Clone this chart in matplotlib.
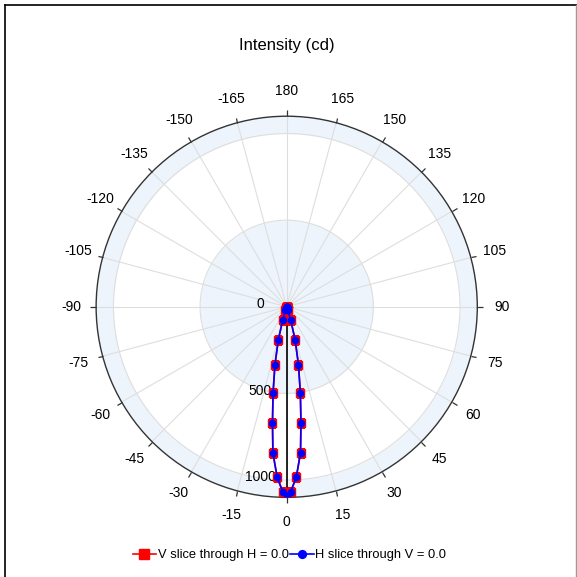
import numpy as np
import matplotlib.pyplot as plt
from matplotlib.lines import Line2D

plt.rcParams['font.family'] = ['Liberation Sans', 'DejaVu Sans']

# polar angle (deg) and intensity (cd)
v_angles = [-90, -75, -60, -45, -30, -25, -20, -16.7, -14.3, -11.5, -9, -7, -5.4, -3.2, -1.2,
            0, 1.2, 3.2, 5.4, 7, 9, 11.5, 14.3, 16.7, 20, 25, 30, 45, 60, 75, 90]
v_cd = [0, 0, 0, 0, 0, 5, 22, 80, 195, 340, 504, 674, 847, 986, 1069,
        1094, 1069, 986, 847, 674, 504, 340, 195, 80, 22, 5, 0, 0, 0, 0, 0]
h_angles = [-90, -75, -60, -45, -30, -25, -20, -16.7, -14.3, -11.5, -9, -7, -5.4, -3.2, -1.2,
            0, 1.2, 3.2, 5.4, 7, 9, 11.5, 14.3, 16.7, 20, 25, 30, 45, 60, 75, 90]
h_cd = [0, 0, 0, 0, 0, 5, 22, 80, 195, 340, 504, 674, 847, 986, 1069,
        1094, 1069, 986, 847, 674, 504, 340, 195, 80, 22, 5, 0, 0, 0, 0, 0]

theta_ticks = list(range(0, 360, 15))
theta_labels = [str(t if t <= 180 else t - 360) for t in theta_ticks]
r_ticks = [0, 500, 1000]
r_max = 1100

band = '#edf4fc'
grid_c = '#dedede'

fig = plt.figure(figsize=(5.77, 5.77), dpi=100)
ax = fig.add_axes([0.1666, 0.138, 0.6606, 0.6606], projection='polar')
ax.set_theta_zero_location('S')
ax.set_theta_direction(1)
ax.set_rlim(0, r_max)

# shaded bands
tt = np.linspace(0, 2 * np.pi, 361)
ax.fill_between(tt, 0, 500, color=band, zorder=0, lw=0)
ax.fill_between(tt, 1000, r_max, color=band, zorder=0, lw=0)

ax.set_thetagrids(theta_ticks, theta_labels, fontsize=10)
ax.set_rticks(r_ticks)
ax.set_yticklabels([])
ax.grid(True, color=grid_c, lw=0.8)
ax.tick_params(axis='x', top=True, bottom=True, direction='out', length=4,
               width=0.9, color='#333333', pad=7)
ax.spines['polar'].set_color('#333333')
ax.spines['polar'].set_linewidth(1.0)

# radial axis line at 0 deg
ax.axvline(0, color='black', lw=1.2, zorder=2)
for r in r_ticks:
    ax.annotate(str(r), xy=(0, r), xytext=(-19, 2), textcoords='offset points',
                ha='center', va='center', fontsize=10)

ax.plot(np.radians(v_angles), v_cd, color='red', marker='s', ms=5.4, lw=1.2,
        label='V slice through H = 0.0', zorder=3)
ax.plot(np.radians(h_angles), h_cd, color='blue', marker='o', ms=4.5, lw=1.2,
        label='H slice through V = 0.0', zorder=4)

fig.text(0.4974, 0.921, 'Intensity (cd)', ha='center', va='center', fontsize=12)

fig.legend(loc='center', bbox_to_anchor=(0.502, 0.038), ncol=2, frameon=False,
           fontsize=9.3, handlelength=1.8, handletextpad=0.15, columnspacing=0.1,
           markerscale=1.25)

# window frame
fig.add_artist(Line2D([0.008, 0.008], [0, 0.991], color='black', lw=1.2))
fig.add_artist(Line2D([0.008, 1.0], [0.991, 0.991], color='black', lw=1.2))
fig.add_artist(Line2D([0.998, 0.998], [0, 0.991], color='#999999', lw=1.0))

fig.savefig('out.png', dpi=100)
